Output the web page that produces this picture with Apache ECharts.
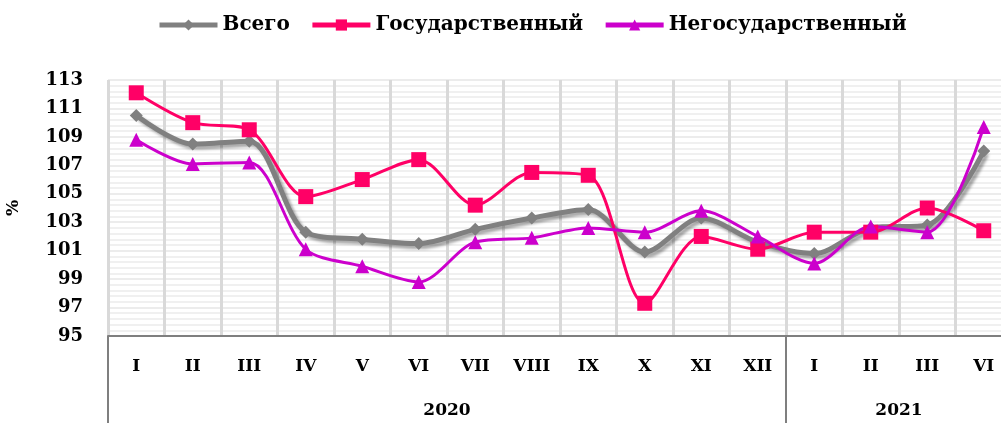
<!DOCTYPE html>
<html>
<head>
<meta charset="utf-8">
<script src="https://cdn.jsdelivr.net/npm/echarts@6/dist/echarts.min.js"></script>
<style>
  html, body { margin: 0; padding: 0; background: #fff; }
  #chart { width: 1001px; height: 423px; }
</style>
</head>
<body>
<div id="chart"></div>
<script>
// months (Roman) and the year groups underneath them
const months = ['I', 'II', 'III', 'IV', 'V', 'VI', 'VII', 'VIII', 'IX', 'X', 'XI', 'XII', 'I', 'II', 'III', 'VI']
const years = ['2020', '2021']
const yearSpans = [12, 4]

// series values, %
const total = [110.5, 108.5, 108.7, 102.3, 101.8, 101.5, 102.5, 103.3, 103.9, 100.9, 103.3, 101.6, 100.8, 102.6, 102.8, 108.0]
const stateOwned = [112.1, 110.0, 109.5, 104.8, 106.0, 107.4, 104.2, 106.5, 106.3, 97.3, 102.0, 101.1, 102.3, 102.3, 104.0, 102.4]
const nonState = [108.8, 107.1, 107.2, 101.1, 99.9, 98.8, 101.6, 101.9, 102.6, 102.3, 103.8, 102.0, 100.1, 102.7, 102.3, 109.7]

const yMin = 95
const yMax = 113
const yStep = 2

const font = 'DejaVu Serif'

// year boundaries and centres on a 0..16 scale
const yearEdges = [0]
const yearCenters = []
yearSpans.forEach((s) => {
  const start = yearEdges[yearEdges.length - 1]
  yearCenters.push(start + s / 2)
  yearEdges.push(start + s)
})

const chart = echarts.init(document.getElementById('chart'))

const option = {
  animation: false,
  legend: {
    top: 10,
    left: 152,
    itemWidth: 58,
    itemHeight: 14,
    itemGap: 20,
    lineStyle: { width: 5, shadowBlur: 0, shadowOffsetX: 0, shadowOffsetY: 0 },
    textStyle: { fontFamily: font, fontWeight: 'bold', fontSize: 20, color: '#000' },
    data: ['Всего', 'Государственный', 'Негосударственный']
  },
  // the plot runs a little past the right edge, as in the original picture
  grid: { left: 108, top: 80, width: 904, bottom: 87, outerBoundsMode: 'none', containLabel: false },
  xAxis: [
    {
      type: 'category',
      data: months,
      boundaryGap: true,
      axisLine: { show: true, lineStyle: { color: '#7f7f7f', width: 2 } },
      axisTick: { show: false },
      axisLabel: { interval: 0, margin: 22, color: '#000', fontFamily: font, fontWeight: 'bold', fontSize: 17 },
      splitLine: { show: true, interval: 0, lineStyle: { color: '#d9d9d9', width: 3 } }
    },
    {
      type: 'value',
      min: 0,
      max: months.length,
      position: 'bottom',
      axisLine: { show: false },
      axisTick: {
        show: true,
        customValues: yearEdges,
        length: 90,
        lineStyle: { color: '#7f7f7f', width: 2 }
      },
      axisLabel: {
        customValues: yearCenters,
        margin: 66,
        color: '#000',
        fontFamily: font,
        fontWeight: 'bold',
        fontSize: 17,
        formatter: (v) => years[yearCenters.indexOf(v)] || ''
      },
      splitLine: { show: false }
    }
  ],
  yAxis: {
    type: 'value',
    min: yMin,
    max: yMax,
    interval: yStep,
    name: '%',
    nameLocation: 'middle',
    nameRotate: 90,
    nameGap: 86,
    nameTextStyle: { color: '#000', fontFamily: font, fontWeight: 'bold', fontSize: 17 },
    axisLine: { show: false },
    axisTick: { show: false },
    axisLabel: { margin: 25, color: '#000', fontFamily: font, fontWeight: 'bold', fontSize: 18 },
    splitLine: { show: true, lineStyle: { color: '#ececec', width: 2 } },
    minorTick: { show: false, splitNumber: 5 },
    minorSplitLine: { show: true, lineStyle: { color: '#f0f0f0', width: 2 } }
  },
  series: [
    {
      name: 'Всего',
      type: 'line',
      data: total,
      smooth: 0.3,
      symbol: 'diamond',
      symbolSize: 13,
      itemStyle: { color: '#808080' },
      lineStyle: { color: '#808080', width: 5, shadowColor: 'rgba(0,0,0,0.35)', shadowBlur: 3, shadowOffsetX: 3, shadowOffsetY: 3 }
    },
    {
      name: 'Государственный',
      type: 'line',
      data: stateOwned,
      smooth: 0.3,
      symbol: 'rect',
      symbolSize: 15,
      itemStyle: { color: '#ff0066' },
      lineStyle: { color: '#ff0066', width: 3 }
    },
    {
      name: 'Негосударственный',
      type: 'line',
      data: nonState,
      smooth: 0.3,
      symbol: 'triangle',
      symbolSize: 14,
      itemStyle: { color: '#cc00cc' },
      lineStyle: { color: '#cc00cc', width: 3 }
    }
  ]
}

chart.setOption(option)
</script>
</body>
</html>
